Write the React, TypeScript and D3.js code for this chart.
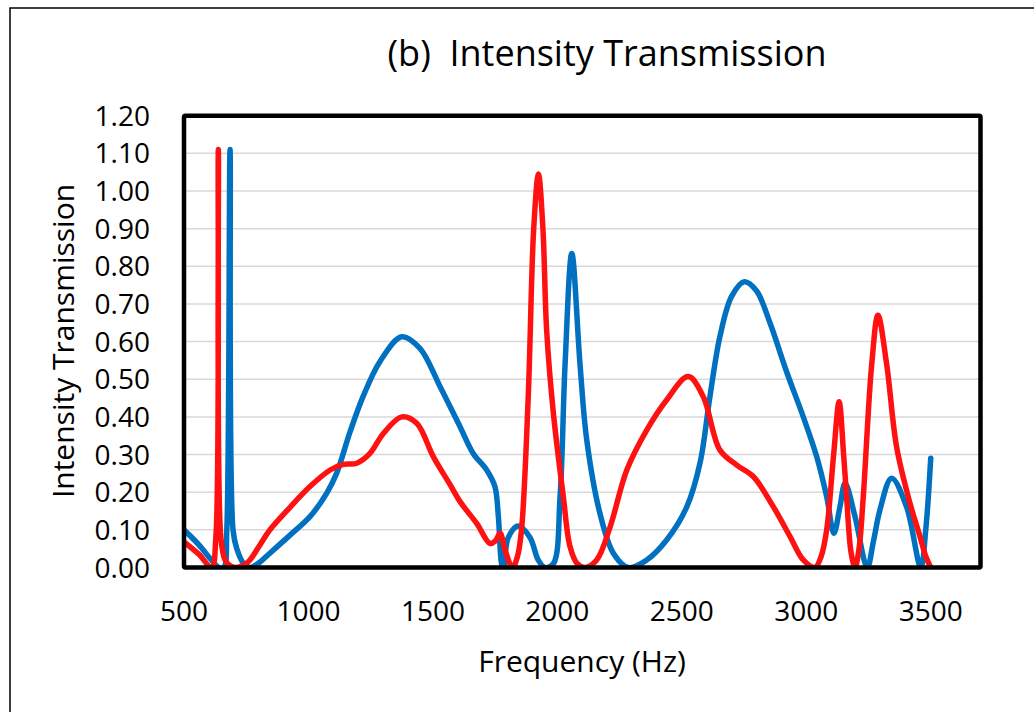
import React from "react";
import * as d3 from "d3";

const xTicks = [500, 1000, 1500, 2000, 2500, 3000, 3500];
const yTicks = [0, 0.1, 0.2, 0.3, 0.4, 0.5, 0.6, 0.7, 0.8, 0.9, 1.0, 1.1, 1.2];

const blueFreq = [500, 560, 610, 640, 660, 672, 685, 697, 712, 740, 765, 800, 845, 926, 1006, 1073, 1113, 1167, 1220, 1288, 1375, 1448, 1529, 1609, 1662, 1716, 1749, 1763, 1776, 1783, 1803, 1843, 1890, 1923, 1950, 1984, 2011, 2031, 2058, 2091, 2118, 2171, 2225, 2285, 2359, 2439, 2520, 2573, 2613, 2653, 2700, 2751, 2800, 2854, 2921, 2988, 3042, 3082, 3111, 3135, 3156, 3196, 3245, 3270, 3296, 3343, 3403, 3460, 3480, 3500];
const blueVal = [0.10, 0.06, 0.02, 0.0, 0.0, 0.1, 1.11, 0.1, 0.05, 0.01, 0, 0.012, 0.038, 0.086, 0.135, 0.197, 0.25, 0.36, 0.455, 0.548, 0.613, 0.582, 0.48, 0.374, 0.303, 0.259, 0.215, 0.135, 0.01, 0, 0.08, 0.11, 0.08, 0.02, 0, 0.01, 0.19, 0.54, 0.834, 0.54, 0.339, 0.144, 0.038, 0, 0.02, 0.073, 0.161, 0.277, 0.454, 0.613, 0.72, 0.759, 0.735, 0.65, 0.52, 0.40, 0.294, 0.188, 0.091, 0.16, 0.224, 0.135, 0, 0.07, 0.153, 0.237, 0.161, 0, 0.1, 0.29];

const redFreq = [500, 560, 611, 628, 638, 648, 665, 690, 712, 740, 765, 805, 845, 926, 1006, 1087, 1140, 1194, 1247, 1301, 1375, 1435, 1502, 1569, 1609, 1676, 1729, 1750, 1770, 1790, 1820, 1840, 1856, 1883, 1905, 1924, 1942, 1957, 1984, 2024, 2051, 2080, 2111, 2158, 2212, 2279, 2359, 2439, 2526, 2586, 2653, 2721, 2788, 2868, 2935, 2988, 3035, 3060, 3082, 3110, 3132, 3150, 3162, 3180, 3196, 3212, 3229, 3263, 3288, 3323, 3363, 3417, 3457, 3480, 3500];
const redVal = [0.068, 0.035, 0.0, 0.08, 1.11, 0.08, 0.02, 0.003, 0, 0.006, 0.02, 0.06, 0.10, 0.16, 0.215, 0.259, 0.274, 0.277, 0.303, 0.356, 0.40, 0.383, 0.294, 0.22, 0.175, 0.117, 0.064, 0.07, 0.091, 0.046, 0, 0.03, 0.10, 0.454, 0.9, 1.045, 0.9, 0.63, 0.41, 0.188, 0.055, 0.01, 0, 0.02, 0.108, 0.259, 0.365, 0.445, 0.507, 0.454, 0.312, 0.272, 0.241, 0.161, 0.082, 0.02, 0, 0.03, 0.10, 0.3, 0.44, 0.3, 0.188, 0.04, 0, 0.05, 0.188, 0.54, 0.67, 0.54, 0.32, 0.17, 0.082, 0.03, 0];

const FONT = "'Open Sans', 'Noto Sans', sans-serif";

export default function App() {
  const W = 1034, H = 712;
  const x = d3.scaleLinear().domain([500, 3700]).range([184, 980.5]);
  const y = d3.scaleLinear().domain([0, 1.2]).range([567.5, 115.7]);
  const line = d3
    .line<[number, number]>()
    .x((d) => x(d[0]))
    .y((d) => y(d[1]))
    .curve(d3.curveCatmullRom.alpha(0.5));
  const blue = blueFreq.map((f, i) => [f, blueVal[i]] as [number, number]);
  const red = redFreq.map((f, i) => [f, redVal[i]] as [number, number]);
  const [x0, x1] = x.range();
  const [yb, yt] = y.range();

  return (
    <svg width={W} height={H} style={{ position: "absolute", left: 0, top: 0, background: "#fff" }}>
      <defs>
        <clipPath id="plotClip">
          <rect x={x0} y={yt - 10} width={x1 - x0} height={yb - yt + 10} />
        </clipPath>
      </defs>
      <path d={`M10,${H + 5} L10,8 L${W + 5},8`} fill="none" stroke="#000" strokeWidth={1.5} />
      <text x={607} y={66} textAnchor="middle" fontFamily={FONT} fontSize={36} fill="#000" style={{ whiteSpace: "pre" }}>
        {"(b)  Intensity Transmission"}
      </text>
      {yTicks.slice(1, -1).map((t) => (
        <line key={t} x1={x0} x2={x1} y1={y(t)} y2={y(t)} stroke="#d9d9d9" strokeWidth={1.5} />
      ))}
      {yTicks.map((t) => (
        <text key={t} x={150} y={y(t)} dy="0.36em" textAnchor="end" fontFamily={FONT} fontSize={28} fill="#000">
          {t.toFixed(2)}
        </text>
      ))}
      {xTicks.map((t) => (
        <text key={t} x={x(t)} y={621} textAnchor="middle" fontFamily={FONT} fontSize={28} fill="#000">
          {t}
        </text>
      ))}
      <text x={582} y={672} textAnchor="middle" fontFamily={FONT} fontSize={30} fill="#000">
        Frequency (Hz)
      </text>
      <text transform={`translate(74,341) rotate(-90)`} textAnchor="middle" fontFamily={FONT} fontSize={30} fill="#000">
        Intensity Transmission
      </text>
      <g clipPath="url(#plotClip)">
        <path d={line(blue) || ""} fill="none" stroke="#0070C0" strokeWidth={5.5} strokeLinejoin="round" strokeLinecap="round" />
        <path d={line(red) || ""} fill="none" stroke="#FF1111" strokeWidth={5.5} strokeLinejoin="round" strokeLinecap="round" />
      </g>
      <rect x={x0} y={yt} width={x1 - x0} height={yb - yt} fill="none" stroke="#000" strokeWidth={4.5} rx={1.5} />
    </svg>
  );
}
